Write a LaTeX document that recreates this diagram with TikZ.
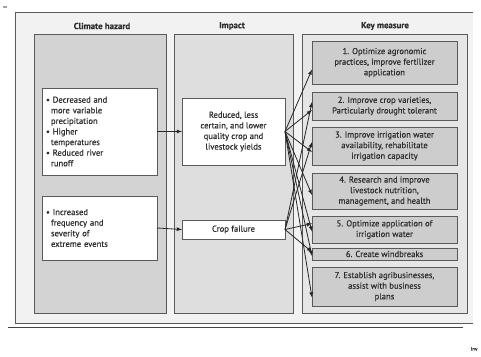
\documentclass[tikz,border=0pt]{standalone}
\usepackage{fontspec}
\setmainfont{PT Sans}[FakeBold=0.5, BoldFont=PT Sans Bold]
\usepackage{tikz}

\definecolor{framegray}{HTML}{F2F2F2}
\definecolor{hazgray}{HTML}{D3D3D3}
\definecolor{impgray}{HTML}{DEDEDE}
\definecolor{keygray}{HTML}{E6E6E6}
\definecolor{measgray}{HTML}{CDCDCD}
\definecolor{edgegray}{HTML}{5A5A5A}
\definecolor{textgray}{HTML}{2E2E2E}
\definecolor{rulecol}{HTML}{34495A}

\begin{document}
\begin{tikzpicture}[x=1pt, y=-1pt, >=latex, font=\fontsize{8.6}{10.6}\selectfont, text=textgray,
    column/.style={draw=edgegray, line width=0.7pt, inner sep=0pt, outer sep=0pt},
    whitebox/.style={draw=edgegray, line width=0.7pt, fill=white, inner sep=0pt, outer sep=0pt, align=center},
    measure/.style={draw=edgegray, line width=0.8pt, fill=measgray, inner sep=0pt, outer sep=0pt,
        minimum width=145pt, align=center},
    head/.style={font=\fontsize{8.8}{10}\selectfont\bfseries},
    link/.style={->, line width=0.8pt, black!85}]
    \useasboundingbox (0,0) rectangle (481,356);
    % Frame and rule
    \node at (5,8) {--};
    \fill[framegray] (15,12) rectangle (473,323);
    \draw[edgegray, line width=0.8pt] (473,12) -- (15,12) -- (15,323) -- (473,323);
    \draw[rulecol, line width=0.9pt] (8,327) -- (463,327);
    \node[anchor=east, font=\fontsize{5}{6}\selectfont] at (481,349) {Inv};
    % Columns
    \filldraw[column, fill=hazgray] (34,34) rectangle (166,313);
    \filldraw[column, fill=impgray] (174,34) rectangle (293,313);
    \filldraw[column, fill=keygray] (302,34) rectangle (467,313);
    \node[head] (hhaz) at (102,26) {Climate hazard};
    \node[head] (himp) at (232,26) {Impact};
    \node[head] (hkey) at (385,26) {Key measure};
    % Climate hazards
    \node[whitebox, minimum width=115pt, minimum height=87pt, align=left, text width=107pt] (haz1) at (99.5,131.5)
        {\textbullet\ Decreased and\\\hspace*{5pt}more variable\\\hspace*{5pt}precipitation\\
         \textbullet\ Higher\\\hspace*{5pt}temperatures\\\textbullet\ Reduced river\\\hspace*{5pt}runoff};
    \node[whitebox, minimum width=115pt, minimum height=64pt, align=left, text width=107pt] (haz2) at (99.5,228)
        {\textbullet\ Increased\\\hspace*{5pt}frequency and\\\hspace*{5pt}severity of\\\hspace*{5pt}extreme events\\[4pt]};
    % Impacts
    \node[whitebox, minimum width=103pt, minimum height=67pt] (imp1) at (233.5,131.5)
        {Reduced, less\\certain, and lower\\quality crop and\\livestock yields};
    \node[whitebox, minimum width=103pt, minimum height=19pt] (imp2) at (233.5,229.5) {Crop failure};
    % Key measures
    \node[measure, minimum height=43pt] (m1) at (384.5,62.5)
        {1. Optimize agronomic\\practices, improve fertilizer\\application};
    \node[measure, minimum height=28pt] (m2) at (384.5,106)
        {2. Improve crop varieties,\\Particularly drought tolerant};
    \node[measure, minimum height=38pt] (m3) at (384.5,146)
        {3. Improve irrigation water\\availability, rehabilitate\\irrigation capacity};
    \node[measure, minimum height=36pt] (m4) at (384.5,191)
        {4. Research and improve\\livestock nutrition,\\management, and health};
    \node[measure, minimum height=27pt] (m5) at (384.5,229.5)
        {5. Optimize application of\\irrigation water};
    \node[measure, minimum height=12pt] (m6) at (384.5,254) {6. Create windbreaks};
    \node[measure, minimum height=39pt] (m7) at (384.5,286.5)
        {7. Establish agribusinesses,\\assist with business\\plans};
    % Links
    \draw[link] (haz1.east) -- (imp1.west);
    \draw[link] (haz2.east) -- (imp2.west);
    \draw[link] (imp1.east) -- ([yshift=-7pt]m1.west);
    \draw[link] (imp1.east) -- ([yshift=-4pt]m2.west);
    \draw[link] (imp1.east) -- ([yshift=-6pt]m3.west);
    \draw[link] (imp1.east) -- ([yshift=-4pt]m4.west);
    \draw[link] (imp1.east) -- ([yshift=-2pt]m5.west);
    \draw[link] (imp1.east) -- ([yshift=-2pt]m6.west);
    \draw[link] (imp1.east) -- ([yshift=-11pt]m7.west);
    \draw[link] (imp2.east) -- ([yshift=4pt]m2.west);
    \draw[link] (imp2.east) -- ([yshift=4pt]m3.west);
    \draw[link] (imp2.east) -- ([yshift=6pt]m5.west);
    \draw[link] (imp2.east) -- ([yshift=2pt]m6.west);
\end{tikzpicture}
\end{document}
